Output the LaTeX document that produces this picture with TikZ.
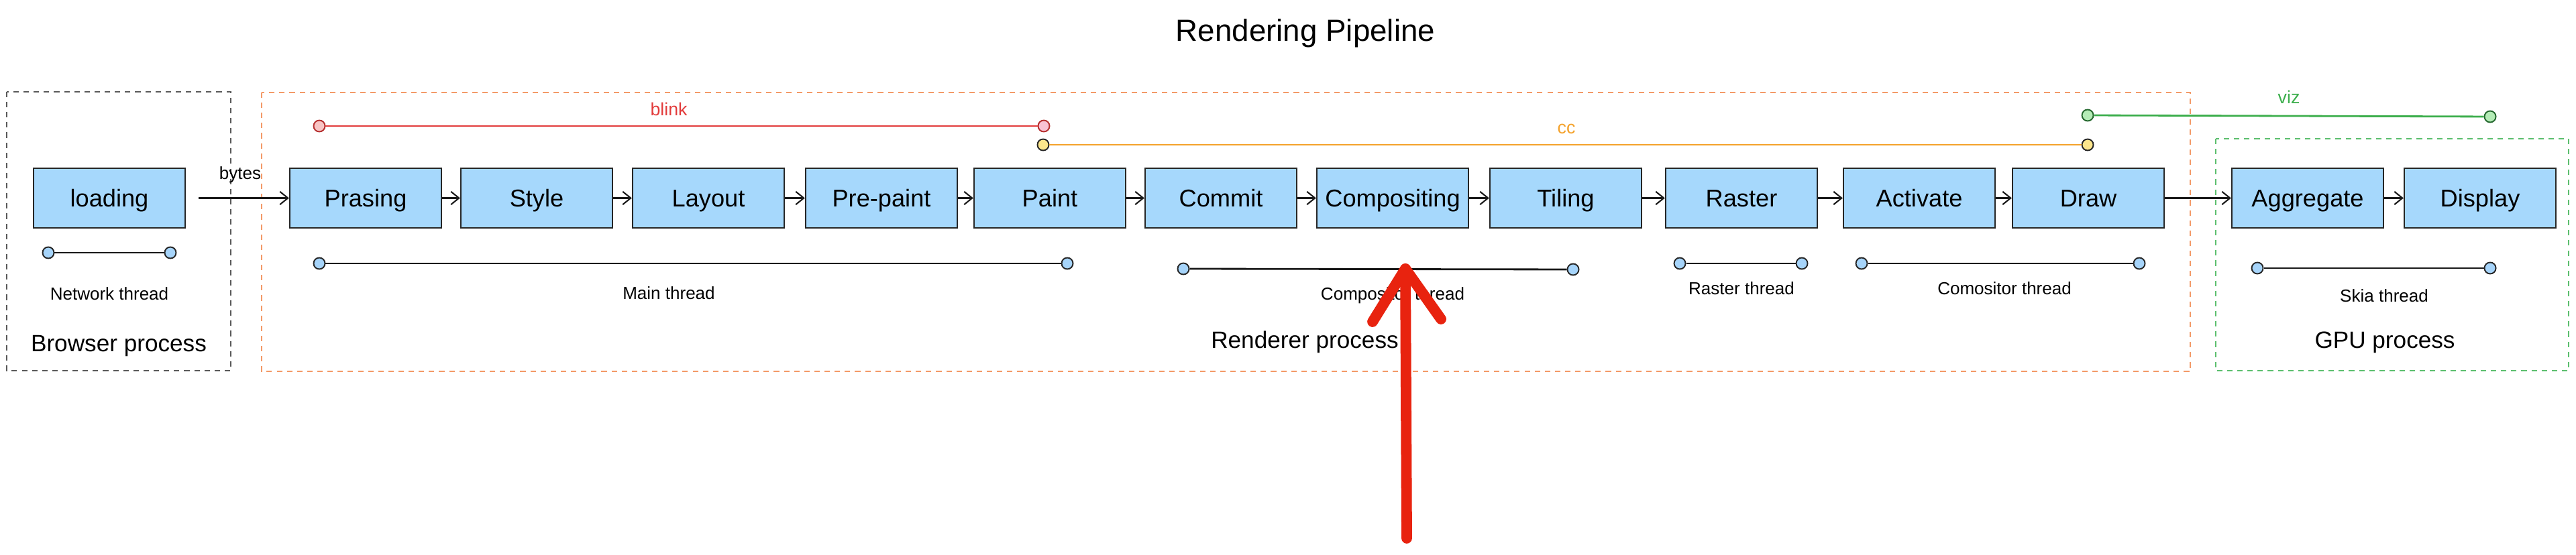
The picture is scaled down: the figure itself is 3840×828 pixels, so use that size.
\documentclass[tikz,border=0pt]{standalone}
\usepackage{fontspec}
\setmainfont{Liberation Sans}
\usetikzlibrary{arrows.meta}
\definecolor{boxblue}{HTML}{A6D8FC}
\definecolor{dotblue}{HTML}{A6D4FA}
\definecolor{blinkred}{HTML}{E23B3B}
\definecolor{blinkfillA}{HTML}{F8C4C4}
\definecolor{blinkfillB}{HTML}{F9C2D4}
\definecolor{ccorange}{HTML}{F4A22C}
\definecolor{ccfill}{HTML}{FCE68C}
\definecolor{vizgreen}{HTML}{3CAE4C}
\definecolor{vizfill}{HTML}{B4ECB6}
\definecolor{rendorange}{HTML}{F39A68}
\definecolor{gpugreen}{HTML}{5CBF6E}
\definecolor{markred}{HTML}{E8230F}
\begin{document}
\begin{tikzpicture}[x=0.01cm,y=-0.01cm,
  stage/.style={draw=black!85, line width=0.6pt, fill=boxblue, minimum width=2.26cm, minimum height=0.89cm, inner sep=0pt, text height=7.4pt, text depth=0pt, font=\fontsize{10.3}{12}\selectfont},
  flow/.style={draw=black!90, line width=0.6pt, -{Straight Barb[length=3.4pt,width=5.5pt]}},
  tdot/.style={circle, draw=black!85, line width=0.55pt, fill=dotblue, minimum size=0.17cm, inner sep=0pt},
  tline/.style={draw=black!90, line width=0.8pt},
  lbl/.style={anchor=base, font=\fontsize{7.4}{9}\selectfont},
  plbl/.style={anchor=base, font=\fontsize{10}{12}\selectfont},
  procbox/.style={dash pattern=on 2.3pt off 2pt, line width=0.45pt},
  redmark/.style={draw=markred, line width=4.5pt, line cap=round, line join=round},
]
\useasboundingbox (0,0) rectangle (3840,828);

% title
\node[anchor=base, font=\fontsize{13}{15}\selectfont] (title) at (1946,62) {Rendering Pipeline};

% process boxes
\draw[procbox, draw=black!65] (10,137) rectangle (344,553);
\draw[procbox, draw=rendorange] (390,138) rectangle (3265,554);
\draw[procbox, draw=gpugreen] (3303,207) rectangle (3829,553);

% stages
\node[stage] (loading) at (163,295.5) {loading};
\node[stage] (prasing) at (545,295.5) {Prasing};
\node[stage] (style) at (800,295.5) {Style};
\node[stage] (layout) at (1056,295.5) {Layout};
\node[stage] (prepaint) at (1314,295.5) {Pre-paint};
\node[stage] (paint) at (1565,295.5) {Paint};
\node[stage] (commit) at (1820,295.5) {Commit};
\node[stage] (compositing) at (2076,295.5) {Compositing};
\node[stage] (tiling) at (2334,295.5) {Tiling};
\node[stage] (raster) at (2596,295.5) {Raster};
\node[stage] (activate) at (2861,295.5) {Activate};
\node[stage] (draw) at (3113,295.5) {Draw};
\node[stage] (aggregate) at (3440,295.5) {Aggregate};
\node[stage] (display) at (3697,295.5) {Display};

% flow arrows
\draw[flow, shorten <=0.19cm] (loading) -- (prasing);
\node[anchor=base, font=\fontsize{7.4}{9}\selectfont] (bytes) at (358,268) {bytes};
\draw[flow] (prasing) -- (style);
\draw[flow] (style) -- (layout);
\draw[flow] (layout) -- (prepaint);
\draw[flow] (prepaint) -- (paint);
\draw[flow] (paint) -- (commit);
\draw[flow] (commit) -- (compositing);
\draw[flow] (compositing) -- (tiling);
\draw[flow] (tiling) -- (raster);
\draw[flow] (raster) -- (activate);
\draw[flow] (activate) -- (draw);
\draw[flow] (draw) -- (aggregate);
\draw[flow] (aggregate) -- (display);

% module lines
\node[tdot, draw=blinkred!80!black, fill=blinkfillA] (bl1) at (476,188) {};
\node[tdot, draw=blinkred!80!black, fill=blinkfillB] (bl2) at (1556,188) {};
\draw[draw=blinkred, line width=0.8pt] (bl1) -- (bl2);
\node[anchor=base, text=blinkred, font=\fontsize{7.6}{9}\selectfont] (blink) at (997,173) {blink};

\node[tdot, fill=ccfill] (cc1) at (1555,216) {};
\node[tdot, fill=ccfill] (cc2) at (3112,216) {};
\draw[draw=ccorange, line width=0.8pt] (cc1) -- (cc2);
\node[anchor=base, text=ccorange, font=\fontsize{7.6}{9}\selectfont] (cc) at (2335,200) {cc};

\node[tdot, draw=vizgreen!60!black, fill=vizfill] (vz1) at (3112,172) {};
\node[tdot, draw=vizgreen!60!black, fill=vizfill] (vz2) at (3712,174) {};
\draw[draw=vizgreen, line width=0.8pt] (vz1) -- (vz2);
\node[anchor=base, text=vizgreen, font=\fontsize{7.6}{9}\selectfont] (viz) at (3412,155) {viz};

% thread lines
\node[tdot] (nt1) at (72,377) {};
\node[tdot] (nt2) at (254,377) {};
\draw[tline] (nt1) -- (nt2);
\node[lbl] (ntl) at (163,448) {Network thread};

\node[tdot] (mt1) at (476,393) {};
\node[tdot] (mt2) at (1591,393) {};
\draw[tline] (mt1) -- (mt2);
\node[lbl] (mtl) at (997,447) {Main thread};

\node[tdot] (ct1) at (1764,401) {};
\node[tdot] (ct2) at (2345,402) {};
\draw[tline] (ct1) -- (ct2);
\node[lbl] (ctl) at (2076,448) {Compositor thread};

\node[tdot] (rt1) at (2504,393) {};
\node[tdot] (rt2) at (2686,393) {};
\draw[tline] (rt1) -- (rt2);
\node[lbl] (rtl) at (2596,440) {Raster thread};

\node[tdot] (ot1) at (2775,393) {};
\node[tdot] (ot2) at (3189,393) {};
\draw[tline] (ot1) -- (ot2);
\node[lbl] (otl) at (2988,440) {Comositor thread};

\node[tdot] (st1) at (3365,400) {};
\node[tdot] (st2) at (3712,400) {};
\draw[tline] (st1) -- (st2);
\node[lbl] (stl) at (3554,451) {Skia thread};

% process labels
\node[plbl] (bp) at (177,525) {Browser process};
\node[plbl] (rp) at (1945,520) {Renderer process};
\node[plbl] (gp) at (3555,520) {GPU process};

% red annotation arrow
\coordinate (rtail) at (2097,803);
\coordinate (rtip) at (2095,401);
\coordinate (rwl) at (2046,480);
\coordinate (rwr) at (2148,476);
\draw[redmark] (rtail) -- (rtip);
\draw[redmark] (rwl) -- (rtip) -- (rwr);
\end{tikzpicture}
\end{document}
